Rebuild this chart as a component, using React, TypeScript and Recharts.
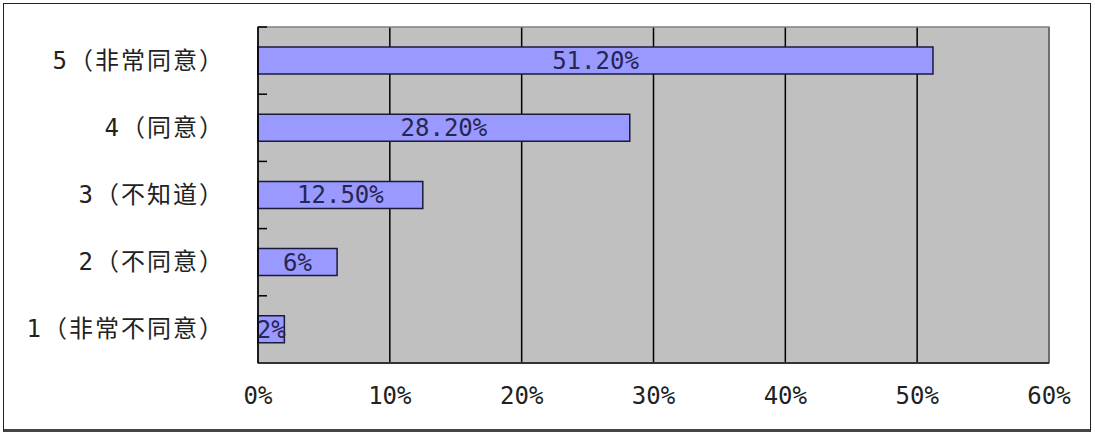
import React from 'react';
import { BarChart, Bar, XAxis, YAxis, CartesianGrid, LabelList, ReferenceArea } from 'recharts';

const categories = ['5（非常同意）', '4（同意）', '3（不知道）', '2（不同意）', '1（非常不同意）'];
const values = [51.2, 28.2, 12.5, 6, 2];
const valueLabels = ['51.20%', '28.20%', '12.50%', '6%', '2%'];
const xTicks = [0, 10, 20, 30, 40, 50, 60];

const data = categories.map((name, i) => ({ name, value: values[i], label: valueLabels[i] }));

const FONT = '"DejaVu Sans Mono", "Noto Sans CJK SC", sans-serif';
const TICK_MARGIN = 33;

function CategoryTick(props: any) {
  const { x, y, payload } = props;
  const half = payload && payload.offset ? payload.offset : 0;
  const axisX = x + TICK_MARGIN;
  return (
    <g>
      <line x1={axisX} x2={axisX + 9} y1={y - half} y2={y - half} stroke="#000" strokeWidth={1.5} />
      <text
        x={x}
        y={y}
        textAnchor="end"
        dominantBaseline="central"
        fontFamily={FONT}
        fontSize={24}
        fill="#222"
        letterSpacing={2}
      >
        {payload.value}
      </text>
    </g>
  );
}

export default function App() {
  return (
    <div style={{ position: 'absolute', left: 0, top: 0, width: 1095, height: 435, background: '#fff' }}>
      <div
        style={{
          position: 'absolute',
          left: 3,
          top: 3,
          width: 1088,
          height: 429,
          boxSizing: 'border-box',
          borderTop: '1.5px solid #222',
          borderLeft: '1.5px solid #222',
          borderRight: '1.5px solid #222',
          borderBottom: '3px solid #444',
        }}
      />
      <div style={{ position: 'absolute', left: 0, top: 0 }}>
        <BarChart
          width={1095}
          height={435}
          layout="vertical"
          data={data}
          margin={{ top: 27, right: 46, bottom: 32, left: 0 }}
        >
          <CartesianGrid
            horizontal={false}
            vertical={true}
            fill="#C0C0C0"
            fillOpacity={1}
            stroke="#000"
            strokeWidth={1.5}
          />
          <ReferenceArea x1={0} x2={60} fill="none" stroke="#808080" strokeWidth={1.5} />
          <XAxis
            type="number"
            domain={[0, 60]}
            ticks={xTicks}
            tickFormatter={(v: number) => `${v}%`}
            height={40}
            tickSize={0}
            tickMargin={24}
            axisLine={{ stroke: '#333', strokeWidth: 2 }}
            tick={{ fontFamily: FONT, fontSize: 24, fill: '#222' }}
            interval={0}
          />
          <YAxis
            type="category"
            dataKey="name"
            width={258}
            tickSize={0}
            tickMargin={TICK_MARGIN}
            tickLine={false}
            axisLine={{ stroke: '#000', strokeWidth: 1.5 }}
            tick={<CategoryTick />}
            interval={0}
          />
          <Bar dataKey="value" fill="#9999FF" stroke="#1a1a3a" strokeWidth={1.5} barSize={27} isAnimationActive={false}>
            <LabelList
              dataKey="label"
              position="center"
              style={{ fontFamily: FONT, fontSize: 24, fill: '#262650' }}
            />
          </Bar>
        </BarChart>
      </div>
    </div>
  );
}
